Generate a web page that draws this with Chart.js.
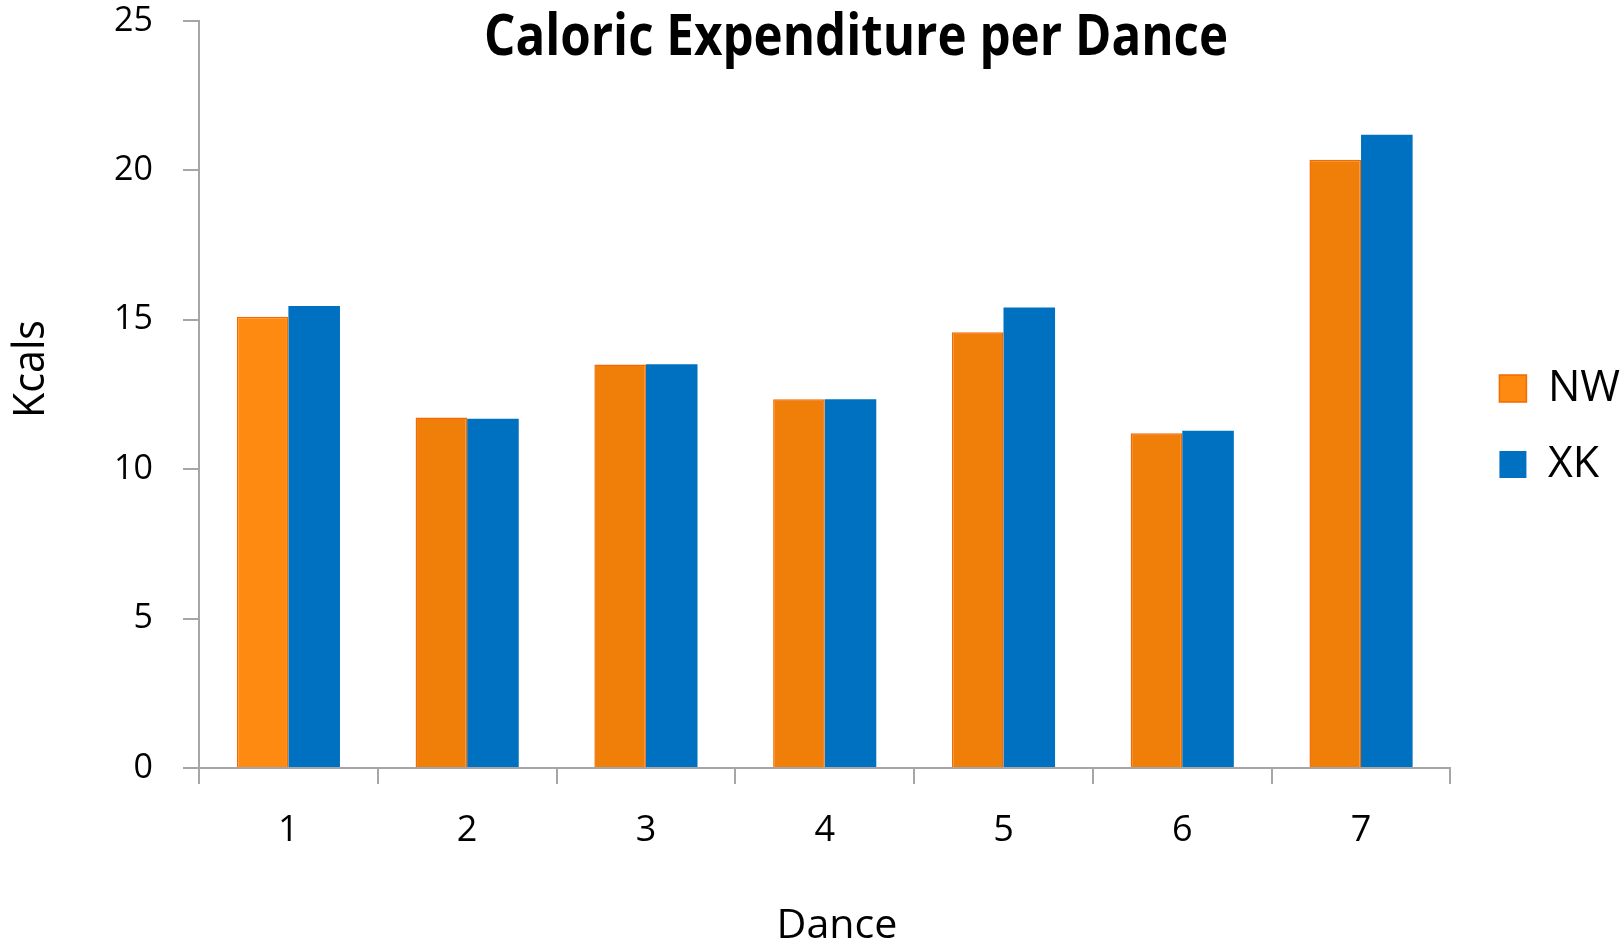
<!DOCTYPE html>
<html>
<head>
<meta charset="utf-8">
<title>Caloric Expenditure per Dance</title>
<script src="https://cdn.jsdelivr.net/npm/chart.js@4/dist/chart.umd.min.js"></script>
<style>
  html, body { margin: 0; padding: 0; background: #ffffff; }
  #wrap { position: relative; width: 1624px; height: 950px; }
  canvas { display: block; }
</style>
</head>
<body>
<div id="wrap"><canvas id="chart" width="1624" height="950"></canvas></div>
<script>
// Dance numbers along the x axis
const dances = ['1', '2', '3', '4', '5', '6', '7'];
// Kcals burned per dance, one list per dancer
const nwKcals = [15.1, 11.73, 13.5, 12.34, 14.58, 11.2, 20.36];
const xkKcals = [15.46, 11.69, 13.51, 12.34, 15.41, 11.29, 21.19];
// Series names
const seriesNames = ['NW', 'XK'];
// Value axis range
const yMin = 0, yMax = 25, yStep = 5;

const chartTitle = 'Caloric Expenditure per Dance';
const xTitle = 'Dance';
const yTitle = 'Kcals';

const ORANGE = '#F07F09';
const ORANGE_FIRST = '#FF8A11';
const ORANGE_EDGE = '#F26A00';
const BLUE = '#0070C0';
const AXIS = '#A6A6A6';
const FONT = '"Open Sans", "DejaVu Sans", sans-serif';

// Draws a line of text centred on (cx, cy), squeezed horizontally to a given width
function fittedText(ctx, text, cx, cy, font, width, angle) {
  ctx.save();
  ctx.font = font;
  ctx.textAlign = 'center';
  ctx.textBaseline = 'middle';
  ctx.fillStyle = '#000000';
  const w = ctx.measureText(text).width;
  ctx.translate(cx, cy);
  if (angle) ctx.rotate(angle);
  ctx.scale(width / w, 1);
  ctx.fillText(text, 0, 0);
  ctx.restore();
}

// Chart title and axis titles
const titlesPlugin = {
  id: 'titles',
  afterDraw(chart) {
    const ctx = chart.ctx;
    fittedText(ctx, chartTitle, 856, 38, 'bold 58px ' + FONT, 744);
    fittedText(ctx, xTitle, 837, 927, '40px ' + FONT, 121);
    fittedText(ctx, yTitle, 31, 369, '44px ' + FONT, 98, -Math.PI / 2);
  }
};

// Moves the legend block to sit a little off the plot, centred on the series boxes
const legendShift = {
  id: 'legendShift',
  afterLayout(chart) {
    const lg = chart.legend;
    if (!lg) return;
    const dx = 16, dy = 32;
    lg.left += dx; lg.right += dx;
    lg.top += dy; lg.bottom += dy;
  }
};

new Chart(document.getElementById('chart'), {
  type: 'bar',
  data: {
    labels: dances,
    datasets: [
      {
        label: seriesNames[0],
        data: nwKcals,
        backgroundColor: (c) => (c.dataIndex === 0 ? ORANGE_FIRST : ORANGE),
        borderColor: ORANGE_EDGE,
        borderWidth: 1.5,
        borderSkipped: 'start'
      },
      {
        label: seriesNames[1],
        data: xkKcals,
        backgroundColor: BLUE,
        borderWidth: 0
      }
    ]
  },
  options: {
    responsive: false,
    animation: false,
    devicePixelRatio: 1,
    categoryPercentage: 0.577,
    barPercentage: 1.0,
    layout: { autoPadding: false, padding: { top: 21, left: 0, right: 10, bottom: 0 } },
    plugins: {
      title: { display: false },
      tooltip: { enabled: false },
      legend: {
        display: true,
        position: 'right',
        fullSize: false,
        maxWidth: 164,
        labels: {
          boxWidth: 27,
          boxHeight: 27,
          padding: 33,
          color: '#000000',
          font: { family: FONT, size: 43 }
        }
      }
    },
    scales: {
      x: {
        offset: true,
        afterFit(s) { s.height = 182; },
        grid: {
          display: true,
          offset: true,
          drawOnChartArea: false,
          drawTicks: true,
          tickLength: 16,
          color: AXIS,
          lineWidth: 2
        },
        border: { display: true, color: AXIS, width: 2 },
        ticks: {
          color: '#000000',
          padding: 25,
          maxRotation: 0,
          font: { family: FONT, size: 36 }
        },
        title: { display: false }
      },
      y: {
        min: yMin,
        max: yMax,
        afterFit(s) {
          s.width = 199;
          s.paddingTop = 0;
          s.paddingBottom = 0;
        },
        grid: {
          display: true,
          drawOnChartArea: false,
          drawTicks: true,
          tickLength: 16,
          color: AXIS,
          lineWidth: 2
        },
        border: { display: true, color: AXIS, width: 2 },
        ticks: {
          stepSize: yStep,
          color: '#000000',
          padding: 30,
          font: { family: FONT, size: 34 }
        },
        title: { display: false }
      }
    }
  },
  plugins: [titlesPlugin, legendShift]
});
</script>
</body>
</html>
